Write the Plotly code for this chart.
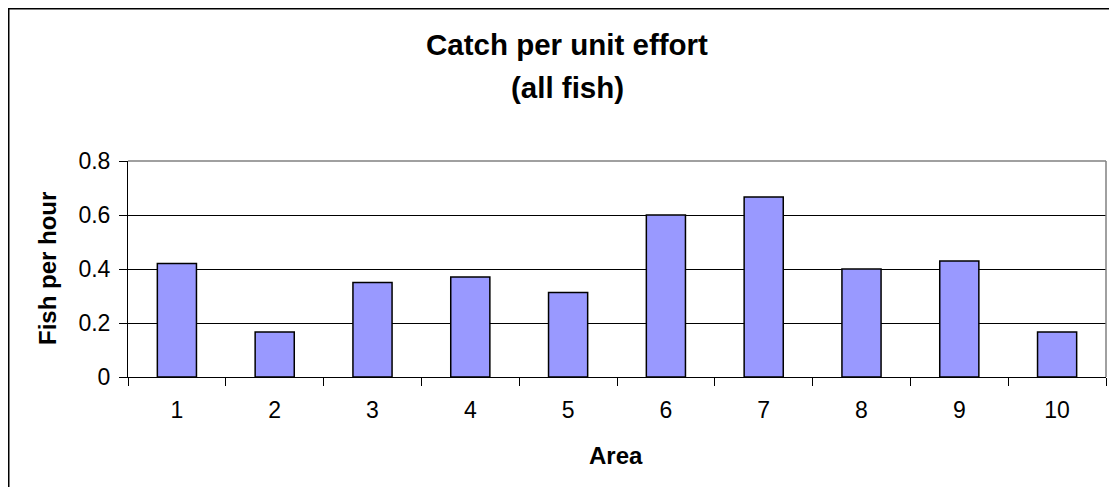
import plotly.graph_objects as go

areas = ["1", "2", "3", "4", "5", "6", "7", "8", "9", "10"]
fish_per_hour = [0.42, 0.167, 0.35, 0.37, 0.313, 0.6, 0.667, 0.4, 0.43, 0.167]
y_ticks = [0, 0.2, 0.4, 0.6, 0.8]
y_tick_labels = ["0", "0.2", "0.4", "0.6", "0.8"]

# page body has an 8px margin, so the figure is laid out 8px in from the window edge
W, H = 1101, 479
L, T = 120, 153
pw, ph = 978, 216
R = W - L - pw
B = H - T - ph

def px(xf):
    return (xf - L) / pw

def py(yf):
    return (T + ph - yf) / ph

font = "Liberation Sans, Arial, sans-serif"

fig = go.Figure()
fig.add_trace(go.Bar(
    x=areas, y=fish_per_hour,
    marker=dict(color="#9999FF", line=dict(color="black", width=1.5)),
    width=0.4,
))

fig.update_layout(
    width=W, height=H,
    margin=dict(l=L, r=R, t=T, b=B, pad=0),
    paper_bgcolor="white", plot_bgcolor="white",
    showlegend=False,
    font=dict(family=font, color="black"),
    xaxis=dict(
        type="category", tickson="boundaries", ticks="outside", ticklen=8,
        tickcolor="black", tickwidth=1, showline=True, linecolor="black", linewidth=1,
        tickfont=dict(size=23), showgrid=False, ticklabelstandoff=12,
        range=[-0.5, 9.5],
    ),
    yaxis=dict(
        range=[0, 0.8], tickvals=y_ticks, ticktext=y_tick_labels,
        ticks="outside", ticklen=8, tickcolor="black", tickwidth=1,
        showline=True, linecolor="black", linewidth=1,
        showgrid=True, gridcolor="black", gridwidth=1,
        tickfont=dict(size=23), zeroline=False, ticklabelstandoff=4,
    ),
)

annots = [
    dict(text="<b>Catch per unit effort</b>", x=px(559), y=py(36.5), size=29.5, angle=0),
    dict(text="<b>(all fish)</b>", x=px(559), y=py(79.5), size=29.5, angle=0),
    dict(text="<b>Fish per hour</b>", x=px(39), y=0.5, size=24, angle=-90),
    dict(text="<b>Area</b>", x=px(608), y=py(447.5), size=24, angle=0),
]
for a in annots:
    fig.add_annotation(
        text=a["text"], x=a["x"], y=a["y"], xref="paper", yref="paper",
        xanchor="center", yanchor="middle", showarrow=False,
        textangle=a["angle"], font=dict(size=a["size"], family=font, color="black"),
    )

# plot area border (top/right in gray)
fig.add_shape(type="line", xref="paper", yref="paper", x0=0, x1=1, y0=1, y1=1,
              line=dict(color="#808080", width=1.5))
fig.add_shape(type="line", xref="paper", yref="paper", x0=1, x1=1, y0=0, y1=1,
              line=dict(color="#808080", width=1.5))

# outer chart border (right and bottom edges lie outside the window)
fig.add_shape(type="rect", xref="paper", yref="paper",
              x0=px(0.5), x1=px(W + 40), y0=py(H + 40), y1=py(0.5),
              line=dict(color="black", width=2), layer="below")

fig.write_html("out.html")
